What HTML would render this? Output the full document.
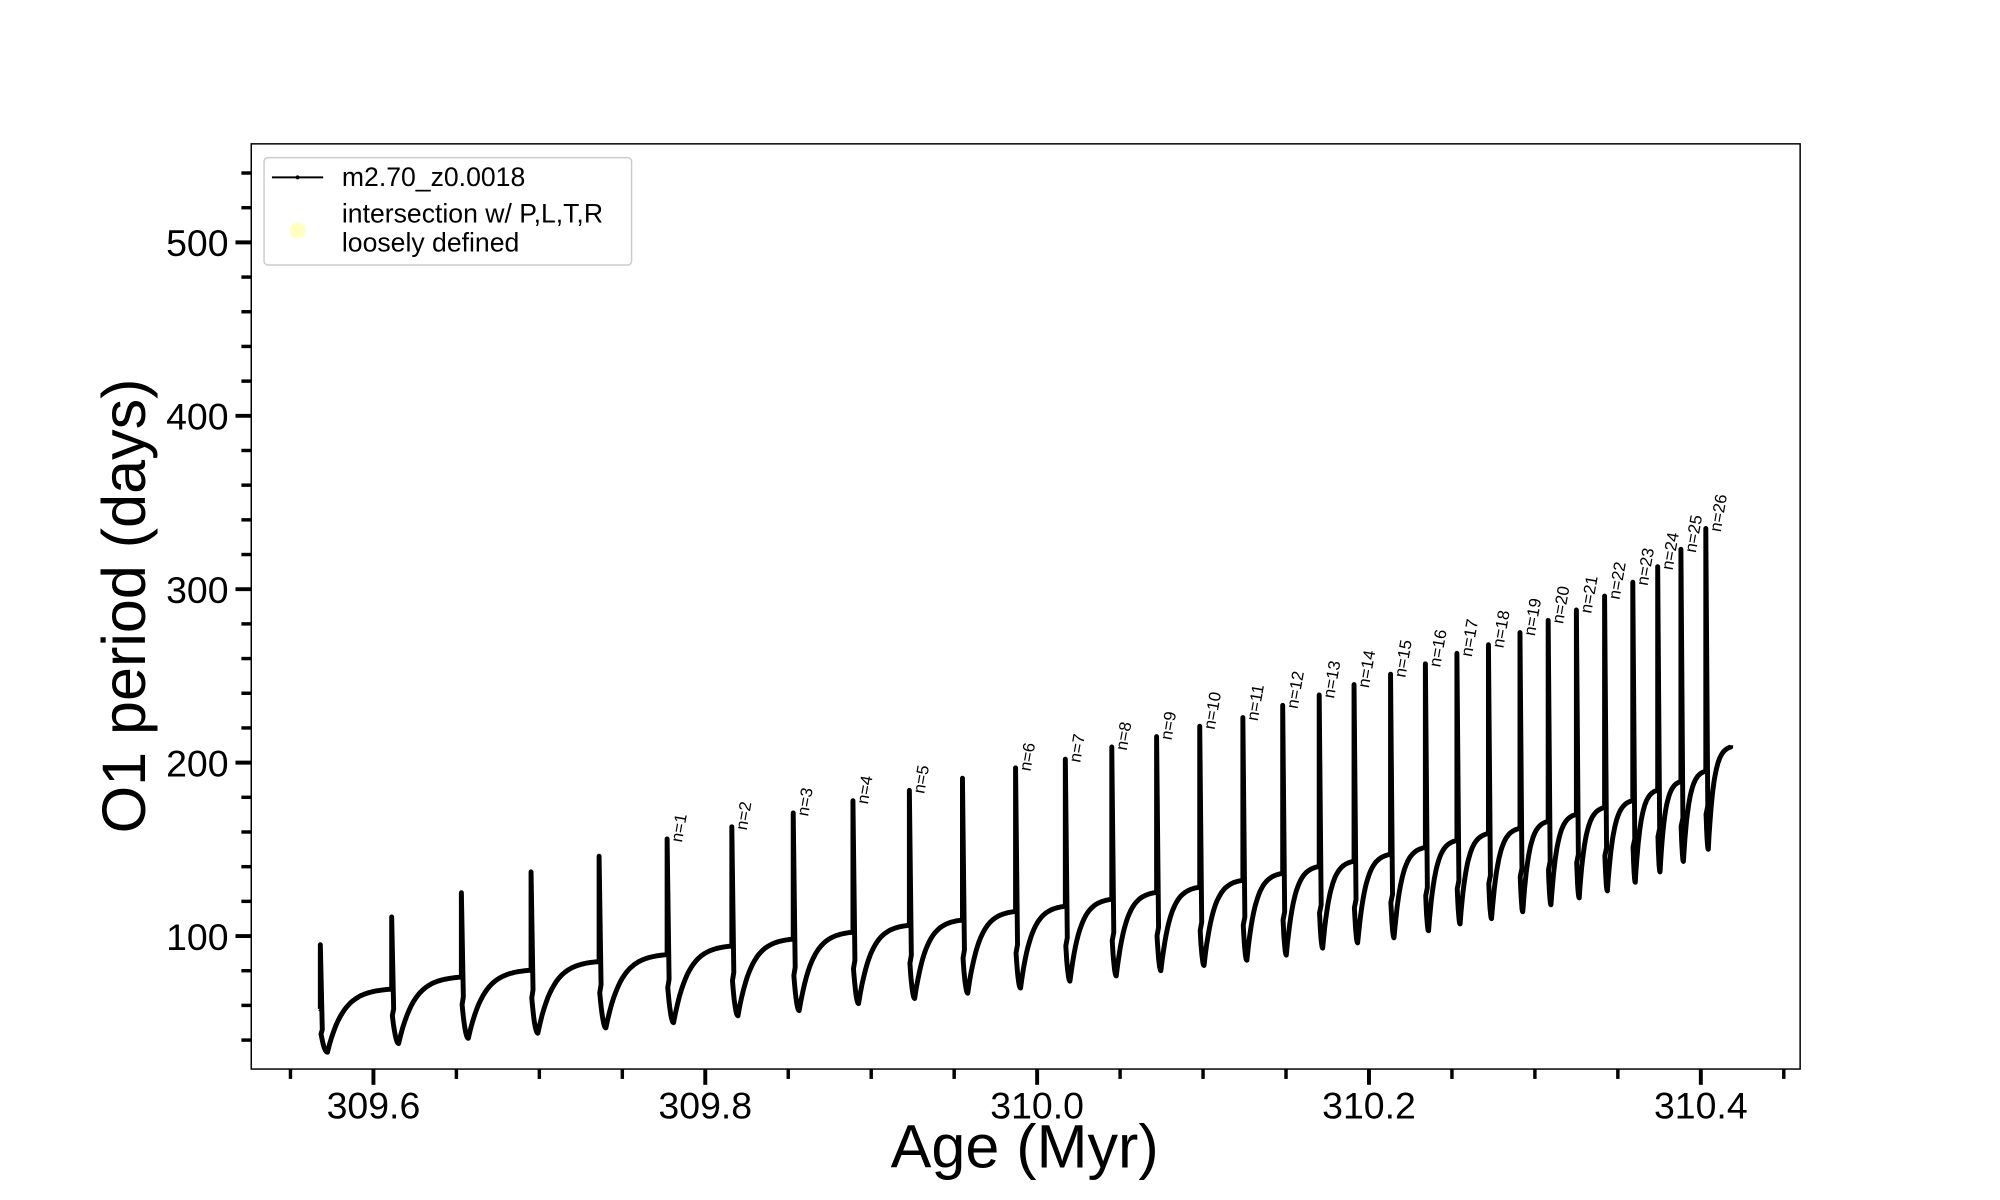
<!DOCTYPE html>
<html><head><meta charset="utf-8"><style>
body{margin:0;background:#fff}
svg{display:block;font-family:"Liberation Sans","DejaVu Sans",sans-serif}
</style></head><body>
<svg id="chart" width="2000" height="1200" viewBox="0 0 2000 1200">
<g transform="scale(0.9853)">
<rect x="255" y="146" width="1572" height="939" fill="#fff" stroke="#000" stroke-width="1.5"/>
<g id="axes"></g>
<path id="series" fill="none" stroke="#000" stroke-width="5" stroke-linejoin="round"/>
<g id="labels"></g>
<text x="1040" y="1185" font-size="62" text-anchor="middle">Age (Myr)</text>
<text transform="translate(147,615) rotate(-90)" font-size="62" text-anchor="middle">O1 period (days)</text>
<g>
<rect x="268" y="160" width="373" height="109" rx="4" fill="#fff" stroke="#ccc" stroke-width="1.5"/>
<line x1="276" y1="180" x2="328" y2="180" stroke="#000" stroke-width="2"/>
<circle cx="302" cy="180" r="2" fill="#000"/>
<text x="347" y="189" font-size="27">m2.70_z0.0018</text>
<circle cx="302" cy="234" r="8" fill="#ffffc0"/>
<text x="347" y="226" font-size="27">intersection w/ P,L,T,R</text>
<text x="347" y="255" font-size="27">loosely defined</text>
</g>
</g>
</svg>
<script>
const pulseAges=[309.568,309.611,309.653,309.695,309.736,309.777,309.816,309.853,309.889,309.923,309.955,309.987,310.017,310.045,310.072,310.098,310.124,310.148,310.170,310.191,310.213,310.234,310.253,310.272,310.291,310.308,310.325,310.342,310.359,310.374,310.388,310.403];
const endAge=310.418;
const peakValues=[95,111,125,137,146,156,163,171,178,184,191,197,202,209,215,221,226,233,239,245,251,257,263,268,275,282,288,296,304,313,323,335];
const plateauValues=[70,77,81,86,90,95,99,103,107,110,115,118,122,126,129,133,137,141,144,148,152,156,160,163,167,171,175,179,185,190,196,210];
const dipValues=[33,38,41,44,47,50,54,57,61,64,67,70,74,77,80,83,86,89,93,96,99,103,107,110,114,118,122,126,131,137,143,150];
const startValue=58;
const pulseLabels=[null,null,null,null,null,"n=1","n=2","n=3","n=4","n=5",null,"n=6","n=7","n=8","n=9","n=10","n=11","n=12","n=13","n=14","n=15","n=16","n=17","n=18","n=19","n=20","n=21","n=22","n=23","n=24","n=25","n=26"];
const xTicks=[309.6,309.8,310.0,310.2,310.4];
const xTickLabels=["309.6","309.8","310.0","310.2","310.4"];
const yTicks=[100,200,300,400,500];
const yTickLabels=["100","200","300","400","500"];

const NS="http://www.w3.org/2000/svg";
const X=a=>379+(a-309.6)*1684;
const Y=v=>1126-v*1.76;
function mk(tag,attrs,parent){const e=document.createElementNS(NS,tag);for(const k in attrs)e.setAttribute(k,attrs[k]);parent.appendChild(e);return e;}
const axes=document.getElementById('axes');
for(let a=309.55;a<=310.451;a+=0.05){
  const x=X(a);
  const major=xTicks.some(t=>Math.abs(t-a)<1e-6);
  const t=mk('line',{x1:x,x2:x,y1:1085,y2:1085+(major?16:10),stroke:'#000','stroke-width':major?4:3.5},axes);
  
  
}
xTicks.forEach((v,i)=>{
  const t=mk('text',{x:X(v),y:1135,'font-size':38,'text-anchor':'middle'},axes);
  t.textContent=xTickLabels[i];
  
  
});
for(let v=40;v<=540;v+=20){
  const y=Y(v);
  const major=v%100===0;
  const t=mk('line',{x1:255-(major?16:10),x2:255,y1:y,y2:y,stroke:'#000','stroke-width':major?4:3.5},axes);
  
  
}
yTicks.forEach((v,i)=>{
  const t=mk('text',{x:232,y:Y(v)+14,'font-size':38,'text-anchor':'end'},axes);
  t.textContent=yTickLabels[i];
  
  
});
let d=`M${X(pulseAges[0]).toFixed(1)},${Y(startValue).toFixed(1)}`;
let prev=startValue;
const labels=document.getElementById('labels');
for(let i=0;i<pulseAges.length;i++){
  const ta=pulseAges[i];
  const next=i+1<pulseAges.length?pulseAges[i+1]:endAge;
  const per=next-ta;
  const P=plateauValues[i], dip=dipValues[i], pk=peakValues[i];
  const low=Math.min(prev-12,dip+25);
  d+=`L${X(ta)},${Y(prev)}L${X(ta)},${Y(pk)}L${X(ta)+2},${Y(low)}`;
  const tdip=ta+per*0.1;
  for(let s=0.1;s<=1.0001;s+=0.1){
    const t=ta+(tdip-ta)*s;
    const v=dip+(low-dip)*(1-s)*(1-s);
    d+=`L${X(t).toFixed(1)},${Y(v).toFixed(1)}`;
  }
  const tau=per*0.22;
  for(let k=1;k<=30;k++){
    const t=tdip+(next-tdip)*k/30;
    const v=P-(P-dip)*Math.exp(-(t-tdip)/tau);
    d+=`L${X(t).toFixed(1)},${Y(v).toFixed(1)}`;
  }
  d+=`L${X(next).toFixed(1)},${Y(P).toFixed(1)}`;
  prev=P;
  if(pulseLabels[i]){
    const tx=X(ta)+15, ty=Y(pk)+4;
    const t=mk('text',{x:tx,y:ty,'font-size':17,transform:`rotate(-80 ${tx} ${ty})`},labels);
    t.textContent=pulseLabels[i];
    
    
  }
}
document.getElementById('series').setAttribute('d',d);
</script>
</body></html>
